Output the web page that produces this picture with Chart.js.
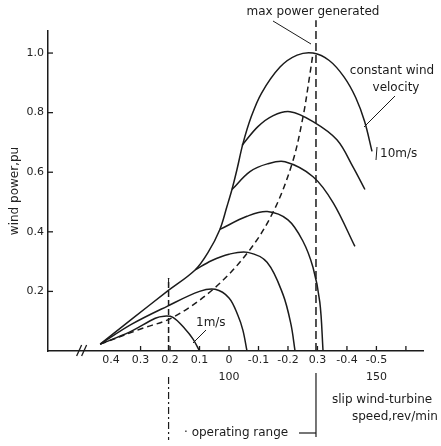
<!DOCTYPE html>
<html>
<head>
<meta charset="utf-8">
<script src="https://cdn.jsdelivr.net/npm/chart.js@4.4.0/dist/chart.umd.min.js"></script>
<style>
html, body { margin: 0; padding: 0; background: #fff; }
canvas { display: block; }
</style>
</head>
<body>
<canvas id="chart" width="441" height="446"></canvas>
<script>
// slip axis (runs right to left), turbine speed shown under two of the ticks
const slipTicks = [0.4, 0.3, 0.2, 0.1, 0, -0.1, -0.2, -0.3, -0.4, -0.5];
const slipLabels = ['0.4', '0.3', '0.2', '0.1', '0', '-0.1', '-0.2', '0.3', '-0.4', '-0.5'];
const speedTicks = [0, -0.5];
const speedLabels = ['100', '150'];
const powerTicks = [0.2, 0.4, 0.6, 0.8, 1.0];
const powerLabels = ['0.2', '0.4', '0.6', '0.8', '1.0'];

// wind power pu vs slip, one curve per constant wind velocity  [slip, power]
const curve10 = [[0.437, 0.023], [0.33, 0.107], [0.21, 0.2], [0.115, 0.272], [0.071, 0.331], [0.031, 0.408],
  [0.007, 0.485], [-0.01, 0.542], [-0.027, 0.609], [-0.047, 0.695], [-0.075, 0.785], [-0.11, 0.865],
  [-0.173, 0.953], [-0.231, 0.993], [-0.285, 1.0], [-0.34, 0.975], [-0.39, 0.92], [-0.43, 0.85],
  [-0.46, 0.77], [-0.485, 0.67]];
const curve9 = [[-0.044, 0.69], [-0.098, 0.753], [-0.15, 0.79], [-0.207, 0.803], [-0.285, 0.77],
  [-0.366, 0.709], [-0.42, 0.619], [-0.461, 0.542]];
const curve8 = [[-0.01, 0.542], [-0.071, 0.602], [-0.13, 0.628], [-0.19, 0.635], [-0.285, 0.585],
  [-0.353, 0.498], [-0.427, 0.351]];
const curve7 = [[0.031, 0.408], [-0.061, 0.452], [-0.13, 0.468], [-0.2, 0.44], [-0.25, 0.37],
  [-0.285, 0.28], [-0.308, 0.164], [-0.319, 0.0]];
const curve6 = [[0.115, 0.272], [0.06, 0.303], [0.0, 0.325], [-0.064, 0.331], [-0.129, 0.298],
  [-0.183, 0.19], [-0.21, 0.09], [-0.224, 0.0]];
const curve5 = [[0.437, 0.023], [0.33, 0.09], [0.21, 0.15], [0.1, 0.2], [0.047, 0.207], [0.0, 0.178],
  [-0.03, 0.12], [-0.047, 0.07], [-0.061, 0.0]];
const curve1 = [[0.437, 0.023], [0.336, 0.064], [0.25, 0.11], [0.22, 0.117], [0.19, 0.113],
  [0.149, 0.074], [0.122, 0.04], [0.1, 0.0]];

// max power generated locus, and the operating range limits
const maxPowerLocus = [[0.437, 0.023], [0.3, 0.074], [0.19, 0.113], [0.054, 0.207], [-0.064, 0.331],
  [-0.149, 0.465], [-0.214, 0.629], [-0.251, 0.786], [-0.275, 0.933], [-0.285, 1.0]];
const maxPowerLine = [[-0.295, 0], [-0.295, 1.11]];
const rangeStartLine = [[0.205, 0], [0.205, 0.245]];

const ink = '#1b1b1b';
const toXY = arr => arr.map(p => ({ x: p[0], y: p[1] }));

function curve(data, dash) {
  return {
    data: toXY(data),
    showLine: true,
    pointRadius: 0,
    borderColor: ink,
    borderWidth: 1.5,
    borderDash: dash || [],
    tension: 0.35,
    fill: false
  };
}

const extras = {
  id: 'extras',
  afterDraw(chart) {
    const ctx = chart.ctx;
    const xs = chart.scales.x, ys = chart.scales.y;
    const area = chart.chartArea;
    ctx.save();
    ctx.strokeStyle = ink;
    ctx.fillStyle = ink;
    ctx.lineWidth = 1.3;

    // inward tick marks
    powerTicks.forEach(v => {
      const y = ys.getPixelForValue(v);
      ctx.beginPath(); ctx.moveTo(area.left, y); ctx.lineTo(area.left + 5, y); ctx.stroke();
    });
    [0.3, 0.2, 0.1, 0, -0.1, -0.2, -0.3, -0.4, -0.5, -0.6].forEach(v => {
      const x = xs.getPixelForValue(v);
      ctx.beginPath(); ctx.moveTo(x, area.bottom); ctx.lineTo(x, area.bottom - 5); ctx.stroke();
    });

    // axis break
    const bx = xs.getPixelForValue(0.5);
    for (let i = 0; i < 2; i++) {
      ctx.beginPath();
      ctx.moveTo(bx - 5 + i * 5, area.bottom + 5);
      ctx.lineTo(bx + i * 5, area.bottom - 6);
      ctx.stroke();
    }

    ctx.font = '12px "DejaVu Sans"';
    ctx.textBaseline = 'middle';
    ctx.textAlign = 'center';
    ctx.fillText('max power generated', 313, 12);
    ctx.fillText('constant wind', 392, 71);
    ctx.fillText('velocity', 396, 88);
    ctx.textAlign = 'left';
    ctx.fillText('10m/s', 380, 154);
    ctx.fillText('1m/s', 196, 323);
    ctx.fillText('slip wind-turbine', 332, 400);
    ctx.fillText('speed,rev/min', 352, 417);
    ctx.fillText('\u00b7 operating range', 184, 433);

    ctx.lineWidth = 1;
    ctx.beginPath(); ctx.moveTo(273, 21); ctx.lineTo(311, 44); ctx.stroke();
    ctx.beginPath(); ctx.moveTo(395, 96); ctx.lineTo(364, 127); ctx.stroke();
    ctx.beginPath(); ctx.moveTo(206, 330); ctx.lineTo(193, 343); ctx.stroke();
    ctx.beginPath(); ctx.moveTo(377, 147); ctx.lineTo(376, 160); ctx.stroke();
    // small mark on top of the slip 0.2 line
    const xl = xs.getPixelForValue(0.205);
    ctx.beginPath(); ctx.moveTo(xl, ys.getPixelForValue(0.245)); ctx.lineTo(xl, ys.getPixelForValue(0.23) + 4); ctx.stroke();

    // operating range markers below the axis
    const xr = xs.getPixelForValue(-0.295);
    ctx.lineWidth = 1.2;
    ctx.beginPath(); ctx.moveTo(xr, 373); ctx.lineTo(xr, 437); ctx.stroke();
    ctx.beginPath(); ctx.moveTo(299, 433); ctx.lineTo(xr, 433); ctx.stroke();
    ctx.setLineDash([7, 3, 2, 3]);
    ctx.beginPath(); ctx.moveTo(xl, 377); ctx.lineTo(xl, 440); ctx.stroke();
    ctx.restore();
  }
};

new Chart(document.getElementById('chart'), {
  type: 'scatter',
  data: {
    datasets: [
      curve(curve10), curve(curve9), curve(curve8), curve(curve7),
      curve(curve6), curve(curve5), curve(curve1),
      curve(maxPowerLocus, [6, 4]),
      Object.assign(curve(maxPowerLine, [8, 4]), { clip: false, tension: 0 }),
      Object.assign(curve(rangeStartLine, [6, 3]), { tension: 0 })
    ]
  },
  plugins: [extras],
  options: {
    responsive: false,
    animation: false,
    devicePixelRatio: 1,
    layout: { padding: { top: 31, right: 18, left: 0, bottom: 0 } },
    plugins: { legend: { display: false }, tooltip: { enabled: false } },
    scales: {
      x: {
        type: 'linear',
        reverse: true,
        min: -0.658,
        max: 0.614,
        afterBuildTicks: s => { s.ticks = slipTicks.map(v => ({ value: v })); },
        afterFit: s => { s.height = 95; },
        ticks: {
          padding: 0,
          maxRotation: 0,
          autoSkip: false,
          color: '#222',
          font: { family: 'DejaVu Sans', size: 11, lineHeight: 1.6 },
          callback: (v, i) => {
            const k = speedTicks.indexOf(slipTicks[i]);
            return k >= 0 ? [slipLabels[i], speedLabels[k]] : slipLabels[i];
          }
        },
        grid: { drawOnChartArea: false, drawTicks: false },
        border: { color: ink, width: 1.5 }
      },
      y: {
        min: 0,
        max: 1.074,
        afterBuildTicks: s => { s.ticks = powerTicks.map(v => ({ value: v })); },
        afterFit: s => { s.width = 48; },
        ticks: {
          padding: 4,
          color: '#222',
          font: { family: 'DejaVu Sans', size: 11 },
          callback: (v, i) => powerLabels[i]
        },
        grid: { drawOnChartArea: false, drawTicks: false },
        border: { color: ink, width: 1.5 },
        title: {
          display: true,
          text: 'wind power,pu',
          color: '#222',
          font: { family: 'DejaVu Sans', size: 12 },
          padding: { top: 8, bottom: 0 }
        }
      }
    }
  }
});
</script>
</body>
</html>
